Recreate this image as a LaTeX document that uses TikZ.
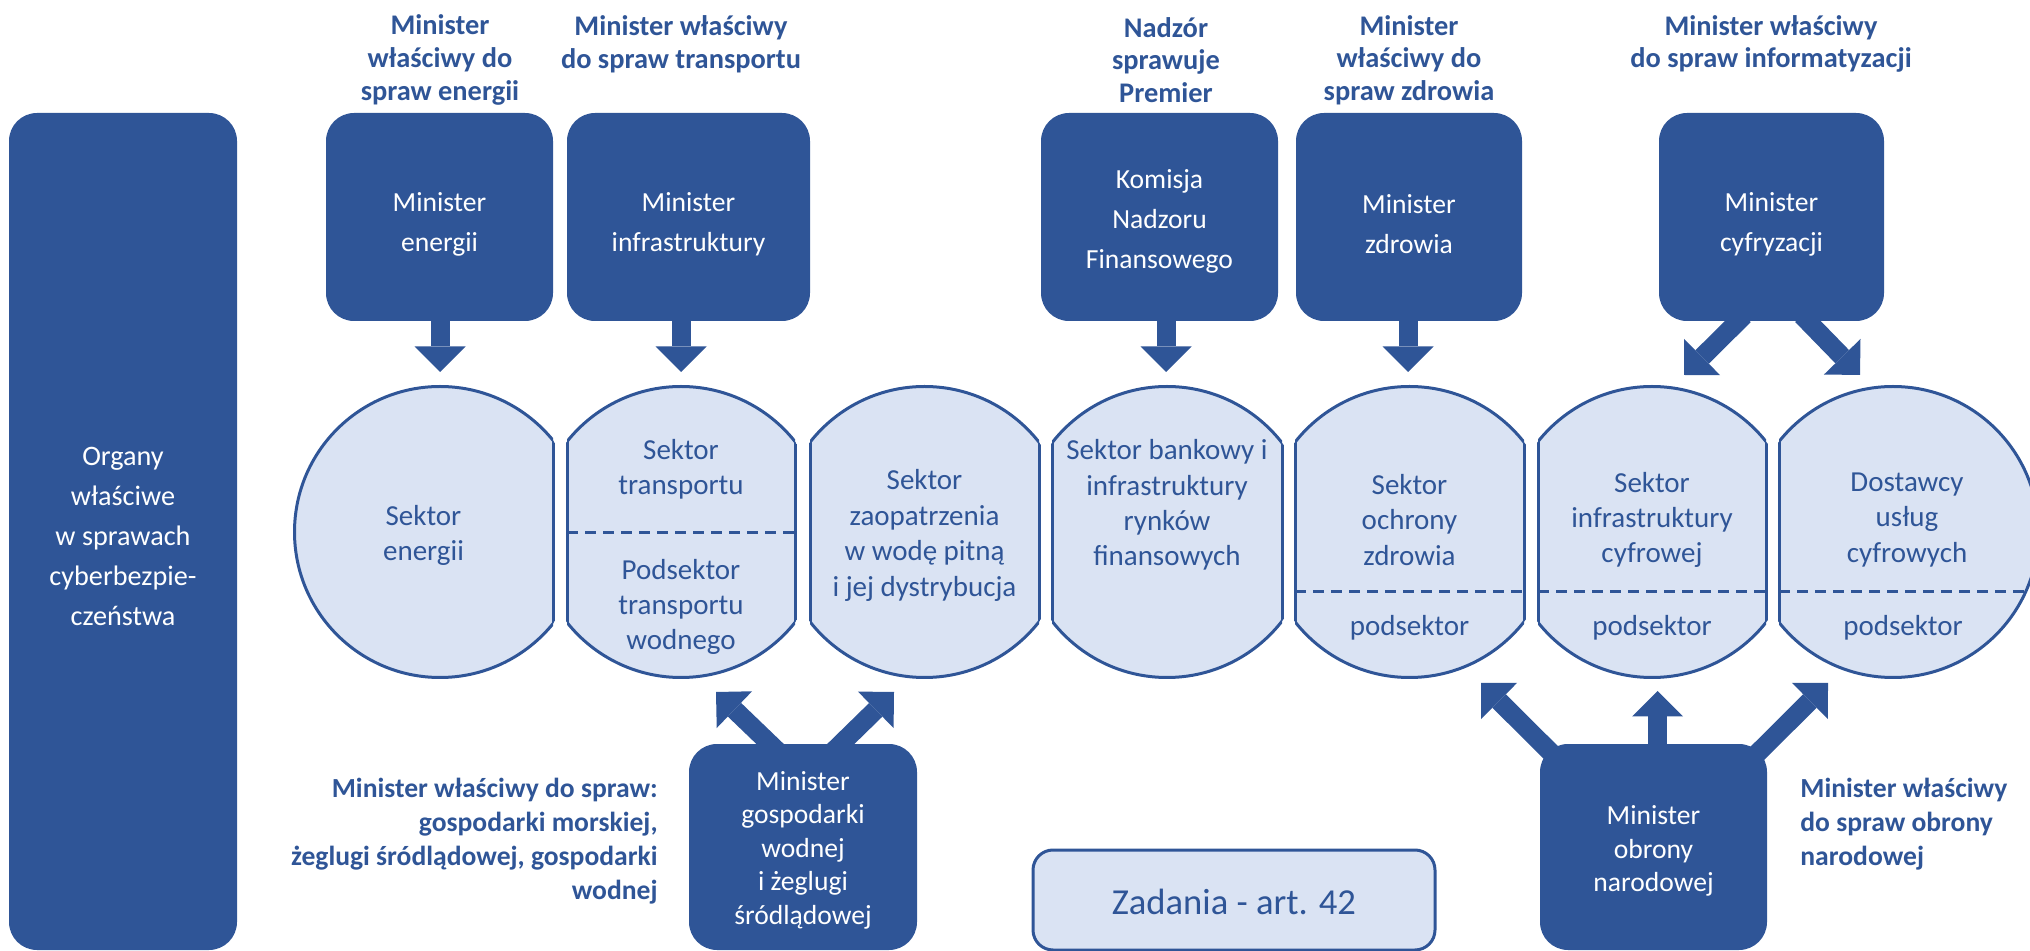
\documentclass[tikz,border=0pt]{standalone}
\usepackage{fontspec}
\setmainfont{Carlito}
\usetikzlibrary{arrows.meta,calc}
\definecolor{dblue}{HTML}{2F5597}
\definecolor{lblue}{HTML}{DAE3F3}
\tikzset{
  darkbox/.style={fill=dblue, rounded corners=14pt, inner sep=0pt},
  boxtext/.style={text=white, align=center, inner sep=0pt, font=\fontsize{13.8pt}{20pt}\selectfont},
  tighttext/.style={boxtext, font=\fontsize{13.8pt}{16.75pt}\selectfont},
  zbox/.style={fill=lblue, draw=dblue, line width=1.5pt, rounded corners=10pt, inner sep=0pt},
  ztext/.style={text=dblue, inner sep=0pt, font=\fontsize{18.3pt}{22pt}\selectfont},
  toplabel/.style={text=dblue, align=center, inner sep=0pt, font=\fontsize{14.2pt}{16.3pt}\selectfont\bfseries},
  sidelabel/.style={text=dblue, inner sep=0pt, font=\fontsize{13.8pt}{17pt}\selectfont\bfseries},
  sectortext/.style={text=dblue, align=center, inner sep=0pt, font=\fontsize{14.5pt}{17.7pt}\selectfont},
  sedge/.style={draw=dblue, line width=1.5pt},
  sdash/.style={draw=dblue, line width=1.5pt, dash pattern=on 5.5pt off 3.5pt},
  barrow/.style={draw=dblue, line width=9.5pt, -{Triangle[width=25.5pt,length=12.75pt,line width=0pt]}},
}
\newcommand\sectorshape[3]{%
  \begin{scope}
    \clip (#1,532) circle[radius=145.5];
    \fill[lblue] (#2,380) rectangle (#3,690);
    \draw[sedge] (#2,380) -- (#2,690);
    \draw[sedge] (#3,380) -- (#3,690);
  \end{scope}
  \begin{scope}
    \clip (#2,380) rectangle (#3,690);
    \draw[sedge] (#1,532) circle[radius=145.5];
  \end{scope}}
\begin{document}
\begin{tikzpicture}[x=0.5pt,y=-0.5pt]
\useasboundingbox (0,0) rectangle (2030,951);
\clip (0,0) rectangle (2030,951);

% left tall box
\node[darkbox, minimum width=114pt, minimum height=418.5pt] (organy) at (123,531.5) {};
\node[boxtext, font=\fontsize{14.1pt}{20pt}\selectfont] (organyt) at ($(organy)+(0,5)$) {Organy\\właściwe\\w sprawach\\cyberbezpie-\\czeństwa};

% top labels
\node[toplabel] (lA) at (440,60) {Minister\\właściwy do\\spraw energii};
\node[toplabel] (lB) at (681,44) {Minister właściwy\\do spraw transportu};
\node[toplabel] (lC) at (1166,60) {Nadzór\\sprawuje\\Premier};
\node[toplabel] (lD) at (1409,60) {Minister\\właściwy do\\spraw zdrowia};
\node[toplabel] (lE) at (1771,44) {Minister właściwy\\do spraw informatyzacji};

% top boxes
\node[darkbox, minimum width=113.5pt, minimum height=104pt] (boxA) at (439.5,217) {};
\node[darkbox, minimum width=121.5pt, minimum height=104pt] (boxB) at (688.5,217) {};
\node[darkbox, minimum width=118.5pt, minimum height=104pt] (boxC) at (1159.5,217) {};
\node[darkbox, minimum width=113pt, minimum height=104pt] (boxD) at (1409,217) {};
\node[darkbox, minimum width=112.5pt, minimum height=104pt] (boxE) at (1771.5,217) {};
\node[boxtext] (boxAt) at ($(boxA)+(0,7)$) {Minister\\energii};
\node[boxtext] (boxBt) at ($(boxB)+(0,7)$) {Minister\\infrastruktury};
\node[boxtext] (boxCt) at ($(boxC)+(0,4)$) {Komisja\\Nadzoru\\Finansowego};
\node[boxtext] (boxDt) at ($(boxD)+(0,7)$) {Minister\\zdrowia};
\node[boxtext] (boxEt) at ($(boxE)+(0,7)$) {Minister\\cyfryzacji};

% sector shapes
\sectorshape{440}{280}{553}
\sectorshape{681}{567}{795}
\sectorshape{924.5}{810}{1039}
\sectorshape{1167}{1052}{1282}
\sectorshape{1409.5}{1295}{1524}
\sectorshape{1652}{1538}{1766}
\sectorshape{1893}{1779}{2045}
\draw[sdash] (567,533) -- (795,533);
\draw[sdash] (1295,592) -- (1524,592);
\draw[sdash] (1538,592) -- (1766,592);
\draw[sdash] (1779,592) -- (2025,592);

% sector texts
\node[sectortext] (s1) at (423.5,535.5) {Sektor\\energii};
\node[sectortext] (s2a) at (681,469.5) {Sektor\\transportu};
\node[sectortext] (s2b) at (681,607) {Podsektor\\transportu\\wodnego};
\node[sectortext] (s3) at (924.5,535.5) {Sektor\\zaopatrzenia\\w wodę pitną\\i jej dystrybucja};
\node[sectortext] (s4) at (1167,505) {Sektor bankowy i\\infrastruktury\\rynków\\finansowych};
\node[sectortext] (s5a) at (1409.5,520) {Sektor\\ochrony\\zdrowia};
\node[sectortext] (s5b) at (1409.5,628) {podsektor};
\node[sectortext] (s6a) at (1652,520) {Sektor\\infrastruktury\\cyfrowej};
\node[sectortext] (s6b) at (1652,628) {podsektor};
\node[sectortext] (s7a) at (1907,520) {Dostawcy\\usług\\cyfrowych};
\node[sectortext] (s7b) at (1903,628) {podsektor};

% bottom boxes
\node[darkbox, minimum width=114pt, minimum height=103pt] (boxW) at (803,847) {};
\node[tighttext] (boxWt) at ($(boxW)+(0,3)$) {Minister\\gospodarki\\wodnej\\i żeglugi\\śródlądowej};
\node[darkbox, minimum width=113.5pt, minimum height=103pt] (boxO) at (1653.5,847) {};
\node[tighttext] (boxOt) at ($(boxO)+(0,4)$) {Minister\\obrony\\narodowej};
\node[zbox, minimum width=201pt, minimum height=50pt] (zad) at (1234,900) {};
\node[ztext] (zadt) at ($(zad)+(0,2)$) {Zadania - art. 42};

% side labels
\node[sidelabel, align=right, anchor=east] (lW) at (658,841) {Minister właściwy do spraw:\\gospodarki morskiej,\\żeglugi śródlądowej, gospodarki\\wodnej};
\node[sidelabel, align=left, anchor=west] (lO) at (1800,824) {Minister właściwy\\do spraw obrony\\narodowej};

% arrow tips
\coordinate (tA) at (440,372);
\coordinate (tB) at (681,372);
\coordinate (tC) at (1166,372);
\coordinate (tD) at (1408,372);
\coordinate (tE1) at (1684,375);
\coordinate (tE2) at (1860,375);
\coordinate (tW1) at (716,692);
\coordinate (tW2) at (894,692);
\coordinate (tO1) at (1481,683);
\coordinate (tO2) at (1828,683);
\coordinate (tO3) at (1657.5,691);

% arrows
\draw[barrow] (boxA.south -| tA) -- (tA);
\draw[barrow] (boxB.south -| tB) -- (tB);
\draw[barrow] (boxC.south -| tC) -- (tC);
\draw[barrow] (boxD.south -| tD) -- (tD);
\draw[barrow] ($(boxE.south)+(-27.5,-6)$) -- (tE1);
\draw[barrow] ($(boxE.south)+(30.5,-6)$) -- (tE2);
\draw[barrow] ($(boxW.north)+(-25,8)$) -- (tW1);
\draw[barrow] ($(boxW.north)+(30,8)$) -- (tW2);
\draw[barrow] ($(boxO.north)+(-93.5,18)$) -- (tO1);
\draw[barrow] ($(boxO.north)+(95.5,18)$) -- (tO2);
\draw[barrow] (boxO.north -| tO3) -- (tO3);
\end{tikzpicture}
\end{document}
